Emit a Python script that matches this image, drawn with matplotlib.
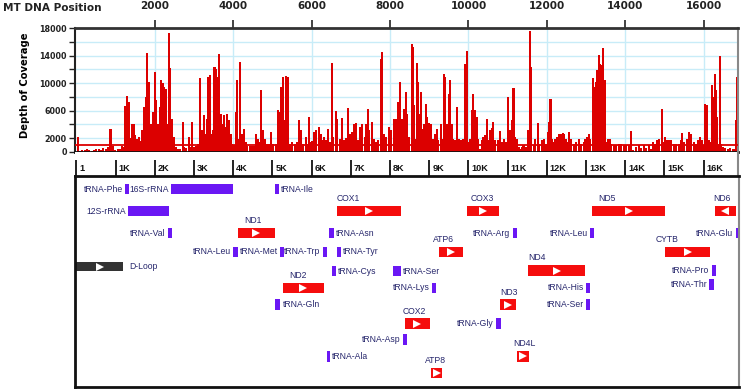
import matplotlib.pyplot as plt
from matplotlib.patches import Rectangle

# coverage (position in bp, depth)
cov_pos = [-30, 34, 90, 150, 210, 270, 330, 390, 450, 510,
           570, 630, 690, 750, 810, 870, 930, 990, 1050, 1110,
           1170, 1215, 1251, 1294, 1336, 1379, 1421, 1464, 1507, 1549,
           1592, 1634, 1677, 1736, 1770, 1813, 1847, 1881, 1915, 1957,
           2000, 2034, 2077, 2128, 2170, 2213, 2247, 2298, 2332, 2374,
           2400, 2451, 2485, 2528, 2570, 2613, 2655, 2715, 2757, 2808,
           2868, 2911, 2953, 2996, 3047, 3098, 3149, 3192, 3251, 3294,
           3336, 3370, 3404, 3447, 3489, 3523, 3566, 3608, 3634, 3677,
           3719, 3762, 3804, 3847, 3889, 3932, 3974, 4017, 4068, 4102,
           4145, 4179, 4221, 4272, 4315, 4357, 4417, 4476, 4527, 4570,
           4604, 4638, 4672, 4706, 4749, 4800, 4851, 4910, 4970, 5021,
           5081, 5140, 5183, 5225, 5268, 5311, 5353, 5395, 5447, 5506,
           5566, 5617, 5676, 5719, 5787, 5847, 5889, 5932, 5974, 6017,
           6059, 6119, 6187, 6229, 6272, 6315, 6374, 6425, 6468, 6510,
           6553, 6613, 6655, 6715, 6766, 6826, 6877, 6928, 6979, 7038,
           7081, 7140, 7191, 7234, 7293, 7353, 7395, 7429, 7472, 7532,
           7591, 7634, 7702, 7761, 7804, 7846, 7906, 7974, 8034, 8102,
           8161, 8212, 8255, 8297, 8357, 8400, 8442, 8485, 8553, 8587,
           8621, 8655, 8689, 8723, 8766, 8800, 8834, 8877, 8911, 8945,
           8996, 9047, 9106, 9149, 9192, 9234, 9294, 9336, 9379, 9413,
           9455, 9498, 9532, 9574, 9617, 9660, 9719, 9762, 9813, 9872,
           9915, 9957, 10000, 10051, 10094, 10128, 10170, 10213, 10255, 10298,
           10340, 10383, 10426, 10468, 10511, 10553, 10596, 10638, 10681, 10749,
           10808, 10851, 10919, 10962, 11021, 11064, 11106, 11149, 11191, 11234,
           11277, 11319, 11362, 11404, 11464, 11532, 11574, 11600, 11660, 11702,
           11762, 11804, 11872, 11923, 11974, 12026, 12060, 12093, 12128, 12170,
           12213, 12255, 12315, 12357, 12400, 12442, 12485, 12528, 12570, 12613,
           12681, 12740, 12808, 12876, 12936, 12979, 13021, 13064, 13106, 13166,
           13209, 13243, 13285, 13319, 13362, 13395, 13438, 13472, 13515, 13557,
           13600, 13643, 13702, 13761, 13830, 13889, 13957, 14017, 14085, 14153,
           14204, 14272, 14340, 14408, 14468, 14519, 14595, 14655, 14706, 14749,
           14808, 14868, 14927, 14970, 15021, 15064, 15123, 15174, 15234, 15293,
           15361, 15412, 15455, 15498, 15574, 15634, 15685, 15745, 15804, 15855,
           15906, 15957, 16008, 16042, 16085, 16128, 16170, 16213, 16247, 16281,
           16315, 16349, 16383, 16417, 16451, 16493, 16553, 16612, 16680, 16740,
           16791, 16825, 16851]
cov_depth = [250, 2150, 200, 300, 250, 450, 300, 200, 350, 500,
             400, 300, 600, 450, 700, 3300, 900, 350, 500, 450,
             900, 700, 6680, 8080, 7260, 2000, 4100, 4100, 2500, 1900,
             2200, 1600, 3240, 6530, 8000, 14370, 10160, 2200, 4100, 5800,
             11600, 7500, 4100, 6500, 10400, 10000, 9440, 9200, 4100, 17280,
             12250, 4840, 2180, 700, 500, 400, 500, 4360, 700, 600,
             2180, 700, 4360, 700, 900, 1200, 10800, 3150, 5300, 2660,
             4840, 10890, 11130, 2660, 3150, 12340, 12100, 10900, 14180, 5570,
             4100, 5300, 3630, 5570, 4600, 2660, 1200, 1000, 5800, 10400,
             1940, 13070, 2660, 3390, 1450, 900, 800, 900, 800, 2660,
             1200, 1940, 1500, 8950, 3150, 1940, 1200, 1100, 2900, 1200,
             1100, 6050, 5800, 9440, 10900, 4600, 11000, 10900, 1200, 1450,
             1200, 1450, 4600, 3150, 1200, 2180, 1200, 5080, 1450, 1600,
             2900, 3150, 3630, 2660, 1800, 2180, 1700, 3390, 1500, 12920,
             2180, 5950, 4840, 1940, 4940, 1700, 2000, 6390, 2660, 2900,
             4100, 4200, 1700, 3630, 4100, 2180, 4100, 6290, 3150, 4360,
             1940, 1450, 1700, 13550, 14520, 2660, 2180, 3630, 3150, 4840,
             4840, 7260, 10160, 4840, 6290, 8710, 5570, 2180, 15630, 15250,
             6780, 1940, 12920, 10160, 5570, 8710, 3390, 4100, 7020, 5080,
             4200, 4100, 1940, 2660, 3390, 1700, 4100, 1940, 11370, 10890,
             4100, 8470, 10400, 4100, 1940, 1700, 6530, 1940, 1700, 1940,
             12820, 14660, 1450, 1940, 6050, 8470, 6050, 5080, 1940, 480,
             1700, 2180, 2420, 4740, 1700, 3150, 3480, 4360, 1700, 1700,
             3000, 1450, 1940, 1450, 7990, 3150, 4600, 9290, 2180, 1940,
             700, 480, 700, 970, 700, 3150, 17570, 12340, 970, 1940,
             4200, 1200, 1700, 1940, 1200, 2900, 4360, 7740, 1940, 1450,
             1940, 2180, 2660, 2660, 2760, 2660, 1940, 1450, 2900, 1940,
             1200, 1450, 1940, 1200, 1450, 1940, 2180, 2660, 1940, 10790,
             9440, 10160, 11860, 14040, 12830, 12580, 15150, 10400, 1450, 1940,
             1940, 1200, 970, 970, 1200, 1100, 970, 970, 970, 3050,
             240, 700, 970, 600, 970, 600, 970, 480, 1450, 1200,
             1700, 1940, 6240, 1450, 2180, 1700, 1700, 1700, 1200, 1100,
             1200, 1700, 2760, 1450, 1940, 2900, 2660, 1450, 1200, 1700,
             2180, 1700, 970, 7020, 6780, 1700, 1450, 9680, 7990, 11370,
             8950, 5080, 1200, 13940, 1200, 700, 600, 480, 600, 480,
             480, 4600, 10890]
mean_depth = 1050

depth_ticks = [0, 2000, 4000, 6000, 8000, 10000, 12000, 14000, 16000, 18000]
depth_labels = ['0', '2000', '', '6000', '', '10000', '', '14000', '', '18000']
pos_ticks = [2000, 4000, 6000, 8000, 10000, 12000, 14000, 16000]
scale_pos = [1, 1000, 2000, 3000, 4000, 5000, 6000, 7000, 8000, 9000,
             10000, 11000, 12000, 13000, 14000, 15000, 16000]
scale_labels = ['1', '1K', '2K', '3K', '4K', '5K', '6K', '7K', '8K', '9K',
                '10K', '11K', '12K', '13K', '14K', '15K', '16K']

# gene map features
feat_name = ['tRNA-Phe', '16S-rRNA', 'tRNA-Ile', '12S-rRNA', 'COX1', 'COX3', 'ND5', 'ND6',
             'tRNA-Val', 'ND1', 'tRNA-Asn', 'tRNA-Arg', 'tRNA-Leu', 'tRNA-Glu',
             'tRNA-Leu', 'tRNA-Met', 'tRNA-Trp', 'tRNA-Tyr', 'ATP6', 'CYTB',
             'D-Loop', 'tRNA-Cys', 'tRNA-Ser', 'ND4', 'tRNA-Pro',
             'ND2', 'tRNA-Lys', 'tRNA-His', 'tRNA-Thr',
             'tRNA-Gln', 'ND3', 'tRNA-Ser', 'COX2', 'tRNA-Gly', 'tRNA-Asp',
             'ND4L', 'tRNA-Ala', 'ATP8']
feat_start = [1242, 2408, 5051, 1319, 6643, 9941, 13130, 16268,
              2321, 4117, 6439, 11107, 13079, 16786,
              3997, 5189, 6276, 6625, 9235, 14992,
              -8, 6515, 8071, 11505, 16184,
              5265, 9066, 12977, 16122,
              5069, 10791, 12977, 8367, 10681, 8316,
              11209, 6370, 9023]
feat_end = [1337, 3990, 5153, 2357, 8258, 10765, 14992, 16786,
            2423, 5051, 6556, 11217, 13189, 16888,
            4117, 5281, 6370, 6745, 9857, 16140,
            1199, 6617, 8258, 12959, 16293,
            6301, 9168, 13079, 16235,
            5196, 11191, 13087, 8997, 10809, 8411,
            11515, 6454, 9321]
feat_row = [13, 13, 13, 35, 35, 35, 35, 35,
            57, 57, 57, 57, 57, 57,
            76, 76, 76, 76, 76, 76,
            90.5, 95, 95, 94.5, 94.5,
            112, 112, 112, 108.7,
            128.7, 128.7, 128.7, 147.7, 147.7, 163.7,
            180.3, 180.3, 196.8]
feat_kind = ['rna', 'rna', 'rna', 'rna', 'gene', 'gene', 'gene', 'gene_rev',
             'rna', 'gene', 'rna', 'rna', 'rna', 'rna',
             'rna', 'rna', 'rna', 'rna', 'gene', 'gene',
             'loop', 'rna', 'rna', 'gene', 'rna',
             'gene', 'rna', 'rna', 'rna',
             'rna', 'gene', 'rna', 'gene', 'rna', 'rna',
             'gene', 'rna', 'gene']
label_side = ['L', 'L', 'R', 'L', 'T', 'T', 'T', 'T',
              'L', 'T', 'R', 'L', 'L', 'L',
              'L', 'L', 'L', 'R', 'T', 'T',
              'R', 'R', 'R', 'T', 'L',
              'T', 'L', 'L', 'L',
              'R', 'T', 'L', 'T', 'L', 'L',
              'T', 'R', 'T']
top_label_x = {'COX1': 6617, 'COX3': 10043, 'ND5': 13291, 'ND6': 16209, 'ND1': 4278,
               'ATP6': 9092, 'CYTB': 14763, 'ND4': 11497, 'ND2': 5434, 'ND3': 10791,
               'COX2': 8316, 'ND4L': 11122, 'ATP8': 8878}

XMIN, XMAX = -35, 16875
W, H = 743, 390
red = '#dc0000'
light_blue = '#c8ecf8'
navy = '#26266c'
colors = {'rna': '#6a17f4', 'gene': '#f50d0d', 'gene_rev': '#f50d0d', 'loop': '#333333'}


def px_box(l, t, r, b):
    return [l / W, 1 - b / H, (r - l) / W, (b - t) / H]


fig = plt.figure(figsize=(W / 100, H / 100), dpi=100)
ax_cov = fig.add_axes(px_box(75, 28, 738, 152))
ax_scale = fig.add_axes(px_box(75, 152, 738, 176))
ax_map = fig.add_axes(px_box(75, 176, 739, 387))

# coverage panel
ax_cov.bar(cov_pos, cov_depth, width=52, color=red, linewidth=0, zorder=2)
ax_cov.axhline(mean_depth, color=red, lw=1.3, zorder=3)
ax_cov.set_xlim(XMIN, XMAX)
ax_cov.set_ylim(0, 18000)
ax_cov.xaxis.tick_top()
ax_cov.set_xticks(pos_ticks)
ax_cov.set_xticklabels([str(p) for p in pos_ticks], fontweight='bold', fontsize=7.5)
ax_cov.set_yticks(depth_ticks)
ax_cov.set_yticklabels(depth_labels, fontweight='bold', fontsize=5.8)
ax_cov.tick_params(axis='x', direction='out', length=6, width=1.2, pad=6, colors='#222222')
ax_cov.tick_params(axis='y', direction='out', length=4, width=1, pad=2, colors='#222222')
ax_cov.grid(True, color=light_blue, lw=1)
ax_cov.set_axisbelow(True)
ax_cov.set_ylabel('Depth of Coverage', fontsize=7.2, fontweight='bold')
ax_cov.yaxis.set_label_coords(-0.068, 0.54)
for side, lw, c in [('top', 2, '#333333'), ('left', 1.5, '#222222'),
                    ('bottom', 2, '#111111'), ('right', 1.5, '#888888')]:
    ax_cov.spines[side].set_linewidth(lw)
    ax_cov.spines[side].set_color(c)
fig.text(3 / W, 1 - 8 / H, 'MT DNA Position', fontsize=7.6, fontweight='bold',
         ha='left', va='center', color='#222222')

# scale bar
ax_scale.set_xlim(XMIN, XMAX)
ax_scale.set_ylim(0, 1)
ax_scale.set_xticks([])
ax_scale.set_yticks([])
for side in ['top', 'left', 'bottom']:
    ax_scale.spines[side].set_visible(False)
ax_scale.spines['right'].set_color('#888888')
ax_scale.spines['right'].set_linewidth(1.5)
ax_scale.vlines(scale_pos, 0, 0.67, color='#111111', lw=1.3)
for p, lab in zip(scale_pos, scale_labels):
    ax_scale.annotate(lab, (p, 0.33), xytext=(2.2, 0), textcoords='offset points',
                      ha='left', va='center', fontsize=6.6, fontweight='bold',
                      family='Liberation Sans', color='#111111')

# gene map
ax_map.set_xlim(XMIN, XMAX)
ax_map.set_ylim(211, 0)
ax_map.set_xticks([])
ax_map.set_yticks([])
for side in ['top', 'left', 'bottom']:
    ax_map.spines[side].set_linewidth(2)
    ax_map.spines[side].set_color('#111111')
ax_map.spines['right'].set_linewidth(1.5)
ax_map.spines['right'].set_color('#888888')

for name, s, e, row, kind, side in zip(feat_name, feat_start, feat_end, feat_row,
                                       feat_kind, label_side):
    h = 9 if kind == 'loop' else 10.5
    ax_map.add_patch(Rectangle((s, row - h / 2), e - s, h, facecolor=colors[kind],
                               edgecolor='none', zorder=2))
    if kind != 'rna':
        mk = '<' if kind == 'gene_rev' else '>'
        ax_map.plot((s + e) / 2, row, marker=mk, color='white', markersize=6,
                    markeredgewidth=0, zorder=3)
    txt = dict(fontsize=6.2, family='Liberation Sans', color=navy, va='center')
    if side == 'L':
        ax_map.annotate(name, (s, row), xytext=(-1.6, 0), textcoords='offset points',
                        ha='right', **txt)
    elif side == 'R':
        off = 4.5 if kind == 'loop' else 1.5
        ax_map.annotate(name, (e, row), xytext=(off, 0), textcoords='offset points',
                        ha='left', **txt)
    else:
        ax_map.text(top_label_x[name], row - 12.5, name, ha='left', **txt)

fig.savefig('out.png', dpi=100)
